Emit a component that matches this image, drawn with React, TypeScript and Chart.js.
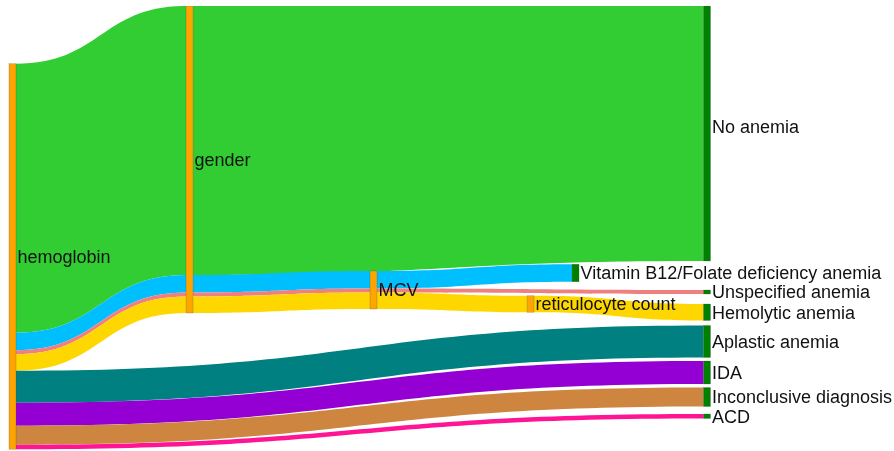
import React, { useEffect, useRef } from 'react';
import { Chart, registerables } from 'chart.js';

Chart.register(...registerables);

// ---- Data ----
const NODE_LABELS = [
  'hemoglobin',
  'gender',
  'MCV',
  'reticulocyte count',
  'Vitamin B12/Folate deficiency anemia',
  'No anemia',
  'Unspecified anemia',
  'Hemolytic anemia',
  'Aplastic anemia',
  'IDA',
  'Inconclusive diagnosis',
  'ACD',
];
// fixed arrangement (normalized 0..1, node centers), like plotly's node.x / node.y
const NODE_X = [0, 0.2549, 0.5198, 0.7459, 0.8107, 1, 1, 1, 1, 1, 1, 1];
const NODE_Y = [0.5629, 0.3449, 0.6382, 0.6697, 0.6, 0.2708, 0.6427, 0.6882, 0.7539, 0.8236, 0.8787, 0.9219];
const NODE_COLORS = [
  '#FFA500', '#FFA500', '#FFA500', '#FFA500',
  '#008000', '#008000', '#008000', '#008000', '#008000', '#008000', '#008000', '#008000',
];

const LINK_SOURCE = [0, 0, 0, 0, 0, 0, 0, 0, 1, 1, 1, 1, 2, 2, 2, 3];
const LINK_TARGET = [1, 1, 1, 1, 8, 9, 10, 11, 5, 2, 2, 2, 4, 6, 3, 7];
const LINK_VALUE = [269, 17.5, 4, 16.5, 32, 23, 19, 4.5, 269, 17.5, 4, 16.5, 17.5, 4, 16.5, 16.5];
const LINK_COLOR = [
  '#32CD32', '#00BFFF', '#F08080', '#FFD700', '#008080', '#9400D3', '#CD853F', '#FF1493',
  '#32CD32', '#00BFFF', '#F08080', '#FFD700',
  '#00BFFF', '#F08080', '#FFD700',
  '#FFD700',
];

const Y_MAX = 445; // flow units spanned by the plot domain
const NODE_W = 7;
const FONT_SIZE = 18;

const sankeyPlugin = {
  id: 'sankeyDraw',
  afterDatasetsDraw(chart: any) {
    const ctx: CanvasRenderingContext2D = chart.ctx;
    const xs = chart.scales.x;
    const ys = chart.scales.y;
    const area = chart.chartArea;
    const n = NODE_LABELS.length;
    const inSum = new Array(n).fill(0);
    const outSum = new Array(n).fill(0);
    LINK_VALUE.forEach((v, i) => {
      outSum[LINK_SOURCE[i]] += v;
      inSum[LINK_TARGET[i]] += v;
    });
    const size = NODE_LABELS.map((_, i) => Math.max(inSum[i], outSum[i]));
    const topVal = NODE_LABELS.map((_, i) => NODE_Y[i] * Y_MAX - size[i] / 2);
    const cx = NODE_X.map((x) => xs.getPixelForValue(x));
    const inOff = new Array(n).fill(0);
    const outOff = new Array(n).fill(0);

    ctx.save();
    ctx.beginPath();
    ctx.rect(0, area.top, chart.width, area.bottom - area.top);
    ctx.clip();

    // links
    LINK_VALUE.forEach((v, i) => {
      const s = LINK_SOURCE[i];
      const t = LINK_TARGET[i];
      const s0 = topVal[s] + outOff[s];
      const t0 = topVal[t] + inOff[t];
      outOff[s] += v;
      inOff[t] += v;
      const x0 = cx[s] + NODE_W / 2;
      const x1 = cx[t] - NODE_W / 2;
      const xm = (x0 + x1) / 2;
      const y0a = ys.getPixelForValue(s0);
      const y0b = ys.getPixelForValue(s0 + v);
      const y1a = ys.getPixelForValue(t0);
      const y1b = ys.getPixelForValue(t0 + v);
      ctx.beginPath();
      ctx.moveTo(x0, y0a);
      ctx.bezierCurveTo(xm, y0a, xm, y1a, x1, y1a);
      ctx.lineTo(x1, y1b);
      ctx.bezierCurveTo(xm, y1b, xm, y0b, x0, y0b);
      ctx.closePath();
      ctx.fillStyle = LINK_COLOR[i];
      ctx.fill();
    });

    // nodes
    NODE_LABELS.forEach((_, i) => {
      const yTop = ys.getPixelForValue(topVal[i]);
      const yBot = ys.getPixelForValue(topVal[i] + size[i]);
      ctx.fillStyle = NODE_COLORS[i];
      ctx.fillRect(cx[i] - NODE_W / 2, yTop, NODE_W, yBot - yTop);
      ctx.lineWidth = 0.5;
      ctx.strokeStyle = 'rgba(68,68,68,0.45)';
      ctx.strokeRect(cx[i] - NODE_W / 2, yTop, NODE_W, yBot - yTop);
    });
    ctx.restore();

    // labels
    ctx.save();
    ctx.font = `${FONT_SIZE}px "Liberation Sans", Arial, sans-serif`;
    ctx.fillStyle = '#111';
    ctx.textAlign = 'left';
    ctx.textBaseline = 'alphabetic';
    NODE_LABELS.forEach((label, i) => {
      const yc = ys.getPixelForValue(topVal[i] + size[i] / 2);
      ctx.fillText(label, cx[i] + NODE_W / 2 + 1.5, yc + FONT_SIZE * 0.35);
    });
    ctx.restore();
  },
};

export default function App() {
  const canvasRef = useRef<HTMLCanvasElement | null>(null);
  useEffect(() => {
    if (!canvasRef.current) return;
    const chart = new Chart(canvasRef.current, {
      type: 'scatter',
      data: { datasets: [{ data: [] }] },
      options: {
        animation: false,
        responsive: true,
        maintainAspectRatio: false,
        layout: { padding: { left: 12.5, right: 187, top: 6, bottom: 0 } },
        plugins: { legend: { display: false }, tooltip: { enabled: false } },
        scales: {
          x: { type: 'linear', min: 0, max: 1, display: false },
          y: { type: 'linear', min: 0, max: Y_MAX, reverse: true, display: false },
        },
      },
      plugins: [sankeyPlugin],
    });
    return () => chart.destroy();
  }, []);
  return (
    <div style={{ position: 'fixed', left: 0, top: 0, width: 894, height: 451, background: '#fff' }}>
      <canvas ref={canvasRef} />
    </div>
  );
}
